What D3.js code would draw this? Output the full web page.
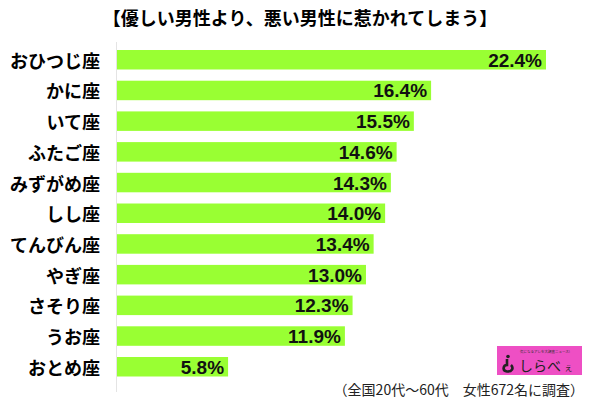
<!DOCTYPE html>
<html>
<head>
<meta charset="utf-8">
<script src="https://cdn.jsdelivr.net/npm/d3@7"></script>
<style>
  body { margin: 0; background: #fff; }
  svg { display: block; }
</style>
</head>
<body>
<svg id="chart"></svg>
<script>
// chart data
let signs = ["おひつじ座", "かに座", "いて座", "ふたご座", "みずがめ座", "しし座", "てんびん座", "やぎ座", "さそり座", "うお座", "おとめ座"];
let values = [22.4, 16.4, 15.5, 14.6, 14.3, 14.0, 13.4, 13.0, 12.3, 11.9, 5.8];
let title = "【優しい男性より、悪い男性に惹かれてしまう】";
let note = "（全国20代～60代　女性672名に調査）";

let width = 600;
let height = 405;

let svg = d3.select("#chart")
    .attr("width", width)
    .attr("height", height);

let jp = "'Noto Sans CJK JP', 'Noto Sans', sans-serif";

let xScale = d3.scaleLinear()
    .domain([0, 22.4])
    .range([117, 546]);

let yScale = d3.scaleBand()
    .domain(signs)
    .range([38.8, 387.7])
    .padding(0.365);

// title
svg.append("text")
    .attr("x", 300)
    .attr("y", 17)
    .attr("text-anchor", "middle")
    .attr("dominant-baseline", "central")
    .style("font-family", jp)
    .style("font-weight", "bold")
    .style("font-size", "18px")
    .text(title);

// axis line
svg.append("line")
    .attr("x1", 116.5).attr("x2", 116.5)
    .attr("y1", 42).attr("y2", 392)
    .attr("stroke", "#e4e4e4")
    .attr("stroke-width", 1);

// bars
svg.selectAll("rect.bar")
    .data(values)
    .enter()
    .append("rect")
    .attr("class", "bar")
    .attr("x", xScale(0))
    .attr("y", (d, i) => yScale(signs[i]))
    .attr("width", d => xScale(d) - xScale(0))
    .attr("height", yScale.bandwidth())
    .attr("fill", "#99ff33");

// category labels
svg.selectAll("text.cat")
    .data(signs)
    .enter()
    .append("text")
    .attr("class", "cat")
    .attr("x", 100)
    .attr("y", d => yScale(d) + yScale.bandwidth() / 2)
    .attr("text-anchor", "end")
    .attr("dominant-baseline", "central")
    .style("font-family", jp)
    .style("font-weight", "bold")
    .style("font-size", "18px")
    .text(d => d);

// value labels
svg.selectAll("text.val")
    .data(values)
    .enter()
    .append("text")
    .attr("class", "val")
    .attr("x", d => xScale(d) - 4)
    .attr("y", (d, i) => yScale(signs[i]) + yScale.bandwidth() / 2 + 7)
    .attr("text-anchor", "end")
    .style("font-family", "'Liberation Sans', Arial, sans-serif")
    .style("font-weight", "bold")
    .style("font-size", "19px")
    .attr("fill", "#111")
    .text(d => d.toFixed(1) + "%");

// logo
let logo = svg.append("g").attr("transform", "translate(497,346)");
logo.append("rect")
    .attr("width", 85)
    .attr("height", 29)
    .attr("fill", "#ee4fc4");
logo.append("text")
    .attr("x", 48).attr("y", 6.5)
    .attr("text-anchor", "middle")
    .style("font-family", jp)
    .style("font-size", "3.5px")
    .attr("fill", "#333")
    .text("気になるアレを大調査ニュース!");
// hook-shaped "i" mark
logo.append("circle")
    .attr("cx", 11).attr("cy", 10.5)
    .attr("r", 1.8)
    .attr("fill", "#222");
logo.append("path")
    .attr("d", "M10,13 L10,19 C6,19 5,25 10,25.5 C15,26 17,22 14,19")
    .attr("fill", "none")
    .attr("stroke", "#222")
    .attr("stroke-width", 2.6);
logo.append("text")
    .attr("x", 22).attr("y", 24.5)
    .style("font-family", jp)
    .style("font-size", "14px")
    .attr("fill", "#222")
    .text("しらべ");
logo.append("text")
    .attr("x", 67).attr("y", 24.5)
    .style("font-family", jp)
    .style("font-size", "9px")
    .attr("fill", "#222")
    .text("ぇ");

// footnote
svg.append("text")
    .attr("x", 584)
    .attr("y", 395)
    .attr("text-anchor", "end")
    .style("font-family", jp)
    .style("font-size", "14px")
    .attr("fill", "#222")
    .text(note);
</script>
</body>
</html>
